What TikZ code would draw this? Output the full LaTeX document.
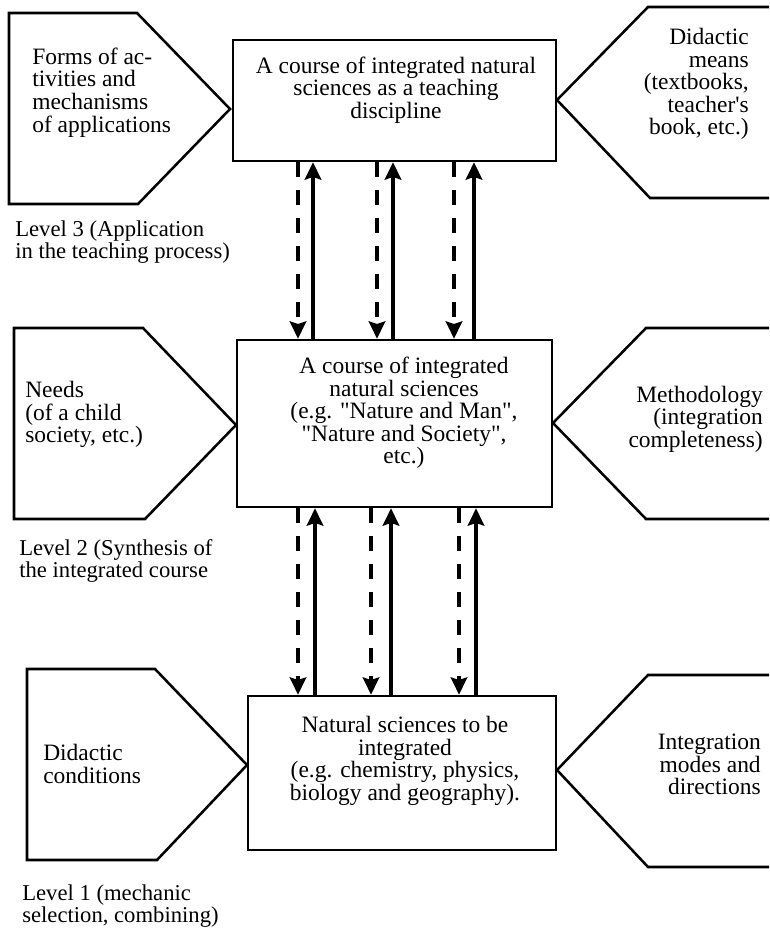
\documentclass[tikz,border=0pt]{standalone}
\usepackage{fontspec}
\setmainfont{Liberation Serif}[Ligatures=TeXOff]
\usetikzlibrary{arrows.meta,fit}
\begin{document}
\begin{tikzpicture}[x=0.75pt,y=-0.75pt,
  box/.style={draw, line width=2pt, inner sep=0pt},
  penta/.style={draw, line width=1.9pt, line join=miter},
  txt/.style={font=\rmfamily\fontsize{17.6}{16.9}\selectfont, inner sep=0pt},
  lbl/.style={font=\rmfamily\fontsize{17}{16.5}\selectfont, inner sep=0pt, align=left, anchor=west},
  tip/.style={-{Stealth[length=13pt,width=12.5pt,inset=2pt]}},
  uparrow/.style={tip, line width=2.5pt},
  downarrow/.style={tip, line width=2.3pt, dash pattern=on 11pt off 10pt}]
\fill[white] (0,0) rectangle (769,930);
\useasboundingbox (0,0) rectangle (769,930);

% central boxes
\node[box, fit={(233,40) (556,161)}] (top) {};
\node[box, fit={(237,340) (552,507)}] (mid) {};
\node[box, fit={(248,696) (556,850)}] (bot) {};

\node[txt, align=center] (toptxt) at (396,90) {A course of integrated natural\\sciences as a teaching\\discipline};
\node[txt, align=center] (midtxt) at (404,413) {A course of integrated\\natural sciences\\(e.g. "Nature and Man",\\"Nature and Society",\\etc.)};
\node[txt, align=center] (bottxt) at (405,761) {Natural sciences to be\\integrated\\(e.g. chemistry, physics,\\biology and geography).};

% pentagons
\draw[penta] (9,13) -- (137,13) -- (230,109) -- (138,204) -- (9,204) -- cycle;
\draw[penta] (769,7) -- (648,7) -- (557,100) -- (650,198) -- (769,198);
\draw[penta] (14,328) -- (143,328) -- (236,425) -- (145,519) -- (14,519) -- cycle;
\draw[penta] (769,328) -- (646,328) -- (553,423) -- (646,519) -- (769,519);
\draw[penta] (27,669) -- (155,669) -- (247,765) -- (157,860) -- (27,860) -- cycle;
\draw[penta] (769,675) -- (648,675) -- (557,770) -- (648,867) -- (769,867);

\node[txt, align=left, anchor=west] (tl) at (32,92.5) {Forms of ac-\\tivities and\\mechanisms\\of applications};
\node[txt, align=right, anchor=east] (tr) at (749,84) {Didactic\\means\\(textbooks,\\teacher's\\book, etc.)};
\node[txt, align=left, anchor=west] (ml) at (25,414.5) {Needs\\(of a child\\society, etc.)};
\node[txt, align=right, anchor=east] (mr) at (763,419) {Methodology\\(integration\\completeness)};
\node[txt, align=left, anchor=west] (bl) at (43,764) {Didactic\\conditions};
\node[txt, align=right, anchor=east] (br) at (761,764.5) {Integration\\modes and\\directions};

% level labels
\node[lbl] (l3) at (15,242) {Level 3 (Application\\in the teaching process)};
\node[lbl] (l2) at (19,561) {Level 2 (Synthesis of\\the integrated course};
\node[lbl] (l1) at (22,906) {Level 1 (mechanic\\selection, combining)};

% arrow columns
\coordinate (d1) at (298,0); \coordinate (u1) at (313,0);
\coordinate (d2) at (377,0); \coordinate (u2) at (393,0);
\coordinate (d3) at (454,0); \coordinate (u3) at (474,0);
\coordinate (e1) at (298,0); \coordinate (v1) at (315,0);
\coordinate (e2) at (371,0); \coordinate (v2) at (391,0);
\coordinate (e3) at (459,0); \coordinate (v3) at (476,0);

\foreach \i in {1,2,3} {
  \draw[downarrow] (d\i |- top.south) -- (d\i |- mid.north);
  \draw[uparrow] (u\i |- mid.north) -- (u\i |- top.south);
  \draw[downarrow] (e\i |- mid.south) -- (e\i |- bot.north);
  \draw[uparrow] (v\i |- bot.north) -- (v\i |- mid.south);
}
\end{tikzpicture}
\end{document}
